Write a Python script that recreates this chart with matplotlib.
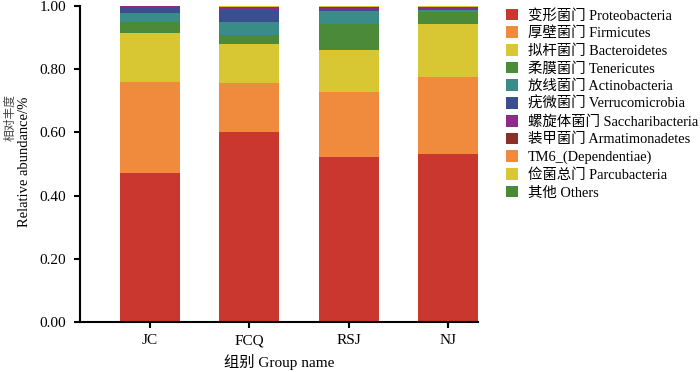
import matplotlib
matplotlib.use('Agg')
import matplotlib.pyplot as plt
from matplotlib.patches import Patch
import numpy as np

plt.rcParams['font.family'] = ['Liberation Serif', 'Noto Sans CJK SC']

groups = ['JC', 'FCQ', 'RSJ', 'NJ']
phyla = ['变形菌门 Proteobacteria', '厚壁菌门 Firmicutes', '拟杆菌门 Bacteroidetes',
         '柔膜菌门 Tenericutes', '放线菌门 Actinobacteria', '疣微菌门 Verrucomicrobia',
         '螺旋体菌门 Saccharibacteria', '装甲菌门 Armatimonadetes', 'TM6_(Dependentiae)',
         '俭菌总门 Parcubacteria', '其他 Others']
colors = ['#c9372f', '#f08a3c', '#d8c733', '#4a8a38', '#3a8c88', '#3a4e90',
          '#8e2a8a', '#8a2f2a', '#f08a3c', '#d8c733', '#4a8a38']

proteobacteria = [0.472, 0.601, 0.522, 0.532]
firmicutes = [0.287, 0.155, 0.206, 0.243]
bacteroidetes = [0.156, 0.125, 0.132, 0.168]
tenericutes = [0.033, 0.028, 0.083, 0.037]
actinobacteria = [0.029, 0.040, 0.041, 0.007]
verrucomicrobia = [0.021, 0.037, 0.007, 0.005]
saccharibacteria = [0.001, 0.010, 0.003, 0.004]
armatimonadetes = [0.0005, 0.001, 0.003, 0.001]
tm6 = [0.0005, 0.001, 0.001, 0.001]
parcubacteria = [0.0003, 0.001, 0.001, 0.001]
others = [0.0002, 0.001, 0.001, 0.001]

series = [proteobacteria, firmicutes, bacteroidetes, tenericutes, actinobacteria,
          verrucomicrobia, saccharibacteria, armatimonadetes, tm6, parcubacteria, others]

fig = plt.figure(figsize=(7, 3.72), dpi=100)
ax = fig.add_axes([80 / 700, 50 / 372, 398 / 700, 316 / 372])

x = np.arange(len(groups))
bottom = np.zeros(len(groups))
for vals, c in zip(series, colors):
    ax.bar(x, vals, width=0.6, bottom=bottom, color=c, linewidth=0)
    bottom += np.array(vals)

ax.set_xlim(-0.70, 3.30)
ax.set_ylim(0, 1.0)
ax.set_xticks(x)
ax.set_xticklabels(groups, fontsize=11)
ax.set_yticks(np.arange(0, 1.01, 0.2))
ax.set_yticklabels(['%.2f' % v for v in np.arange(0, 1.01, 0.2)], fontsize=11)
ax.tick_params(direction='out', length=4, width=1.5, pad=6)
ax.tick_params(axis='x', pad=5)
for s in ['top', 'right']:
    ax.spines[s].set_visible(False)
for s in ['left', 'bottom']:
    ax.spines[s].set_linewidth(1.5)

# axis titles placed by hand, as in the original figure
fig.text(279 / 700, 1 - 362 / 372, '组别 Group name', fontsize=11, ha='center', va='center')
fig.text(11 / 700, 1 - 94 / 372, '相对丰度', fontsize=8.5, rotation=90,
         ha='center', va='top', color='#444444')
fig.text(25 / 700, 1 - 97 / 372, 'Relative abundance/%', fontsize=10.5, rotation=90,
         ha='center', va='top')

handles = [Patch(facecolor=c, edgecolor='none') for c in colors]
fig.legend(handles, phyla, loc='upper left', bbox_to_anchor=(500 / 700, 1 - 3 / 372),
           frameon=False, fontsize=10.4, handlelength=0.85, handleheight=0.85,
           handletextpad=0.7, labelspacing=0.27, borderaxespad=0)

fig.savefig('out.png', dpi=100)
